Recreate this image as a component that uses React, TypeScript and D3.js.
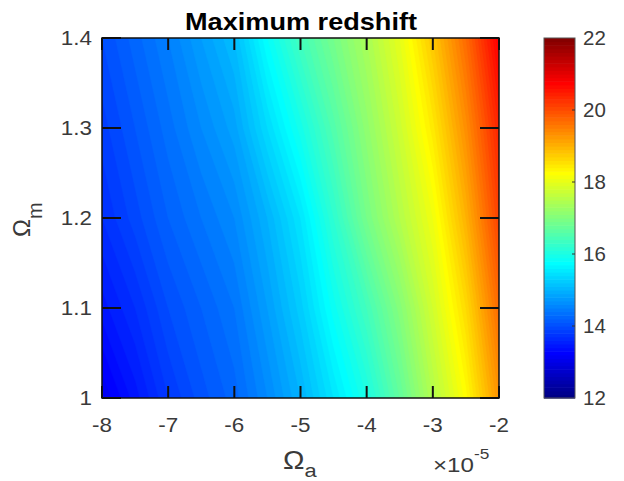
import { useEffect, useRef } from 'react';
import * as d3 from 'd3';

// Omega_a (x 1e-5), grid columns
const omegaA = [-8, -7.5, -7, -6.5, -6, -5.5, -5, -4.5, -4, -3.5, -3, -2.5, -2];
// Omega_m, grid rows from top to bottom
const omegaM = [1.4, 1.3, 1.2, 1.1, 1.0];

// maximum redshift, one row per Omega_m value
const zRow14 = [14.0, 14.25, 14.5, 14.8, 15.1, 15.8, 16.4, 16.9, 17.4, 18.0, 18.8, 19.7, 20.8];
const zRow13 = [13.85, 14.1, 14.35, 14.6, 14.85, 15.4, 15.95, 16.55, 17.15, 17.75, 18.45, 19.35, 20.4];
const zRow12 = [13.7, 13.95, 14.2, 14.4, 14.6, 15.0, 15.5, 16.2, 16.9, 17.5, 18.1, 19.0, 20.1];
const zRow11 = [13.45, 13.7, 14.0, 14.2, 14.4, 14.8, 15.25, 15.85, 16.4, 17.05, 17.8, 18.6, 19.7];
const zRow10 = [13.1, 13.45, 13.8, 14.05, 14.25, 14.6, 15.0, 15.5, 16.0, 16.7, 17.5, 18.25, 19.3];

const xTicks = [-8, -7, -6, -5, -4, -3, -2];
const yTicks = [1, 1.1, 1.2, 1.3, 1.4];
const cbTicks = [12, 14, 16, 18, 20, 22];
const zDomain: [number, number] = [12, 22];

const W = 624;
const H = 481;

// MATLAB jet colormap
function jet(t: number) {
  const c = (v: number) => Math.max(0, Math.min(1, v));
  t = c(t);
  const r = c(1.5 - Math.abs(4 * t - 3));
  const g = c(1.5 - Math.abs(4 * t - 2));
  const b = c(1.5 - Math.abs(4 * t - 1));
  return d3.rgb(r * 255, g * 255, b * 255).formatHex();
}

export default function App() {
  const svgRef = useRef<SVGSVGElement>(null);

  useEffect(() => {
    if (!svgRef.current) return;
    const svg = d3.select(svgRef.current);
    svg.selectAll('*').remove();

    const plot = { left: 102, right: 499, top: 38, bottom: 398 };
    const xScale = d3.scaleLinear().domain([-8, -2]).range([plot.left, plot.right]);
    const yScale = d3.scaleLinear().domain([1, 1.4]).range([plot.bottom, plot.top]);
    const zColor = (z: number) => jet((z - zDomain[0]) / (zDomain[1] - zDomain[0]));

    const nx = omegaA.length;
    const ny = omegaM.length;
    const values = [zRow14, zRow13, zRow12, zRow11, zRow10].flat();

    // grid coords -> pixels (d3.contours puts value i at i + 0.5)
    const gx = d3.scaleLinear().domain([0.5, nx - 0.5])
      .range([xScale(omegaA[0]), xScale(omegaA[nx - 1])]);
    const gy = d3.scaleLinear().domain([0.5, ny - 0.5])
      .range([yScale(omegaM[0]), yScale(omegaM[ny - 1])]);

    const path = d3.geoPath(d3.geoTransform({
      point(x, y) { this.stream.point(gx(x), gy(y)); },
    }));

    const thresholds = d3.range(12, 22.001, 0.1);
    const contours = d3.contours().size([nx, ny]).thresholds(thresholds)(values);

    svg.append('defs')
      .append('clipPath')
      .attr('id', 'plot-clip')
      .append('rect')
      .attr('x', plot.left)
      .attr('y', plot.top)
      .attr('width', plot.right - plot.left)
      .attr('height', plot.bottom - plot.top);

    svg.append('g')
      .attr('clip-path', 'url(#plot-clip)')
      .selectAll('path')
      .data(contours)
      .join('path')
      .attr('d', d => path(d as any))
      .attr('fill', d => zColor(d.value + 0.05))
      .attr('stroke', d => zColor(d.value + 0.05))
      .attr('stroke-width', 0.5);

    // ticks inside the box
    const tk = svg.append('g').attr('stroke', '#111').attr('stroke-width', 2);
    xTicks.forEach(v => {
      const x = xScale(v);
      tk.append('line').attr('x1', x).attr('x2', x).attr('y1', plot.bottom).attr('y2', plot.bottom - 12);
      tk.append('line').attr('x1', x).attr('x2', x).attr('y1', plot.top).attr('y2', plot.top + 12);
    });
    yTicks.forEach(v => {
      const y = yScale(v);
      tk.append('line').attr('x1', plot.left).attr('x2', plot.left + 19).attr('y1', y).attr('y2', y);
      tk.append('line').attr('x1', plot.right).attr('x2', plot.right - 19).attr('y1', y).attr('y2', y);
    });

    svg.append('rect')
      .attr('x', plot.left)
      .attr('y', plot.top)
      .attr('width', plot.right - plot.left)
      .attr('height', plot.bottom - plot.top)
      .attr('fill', 'none')
      .attr('stroke', '#111')
      .attr('stroke-width', 1.5);

    const font = 'Arial, "Liberation Sans", Helvetica, sans-serif';
    const labelColor = '#3a3a3a';
    const sx = 1.15; // reference text is drawn a little wide

    // x tick labels
    svg.append('g')
      .selectAll('text')
      .data(xTicks)
      .join('text')
      .attr('transform', d => `translate(${xScale(d)},432) scale(${sx},1)`)
      .attr('text-anchor', 'middle')
      .attr('font-family', font)
      .attr('font-size', 19.5)
      .attr('fill', labelColor)
      .text(d => String(d));

    // y tick labels
    svg.append('g')
      .selectAll('text')
      .data(yTicks)
      .join('text')
      .attr('transform', d => `translate(92,${yScale(d) + 7}) scale(${sx},1)`)
      .attr('text-anchor', 'end')
      .attr('font-family', font)
      .attr('font-size', 19.5)
      .attr('fill', labelColor)
      .text(d => String(d));

    // exponent
    const ex = svg.append('text')
      .attr('transform', `translate(433,472) scale(${sx},1)`)
      .attr('font-family', font)
      .attr('font-size', 21)
      .attr('fill', labelColor);
    ex.append('tspan').text('\u00d710');
    ex.append('tspan').attr('dy', -13).attr('font-size', 15).text('-5');

    // axis labels
    const xl = svg.append('text')
      .attr('transform', `translate(283,469) scale(${sx},1)`)
      .attr('font-family', font)
      .attr('font-size', 25)
      .attr('fill', labelColor);
    xl.append('tspan').text('\u03a9');
    xl.append('tspan').attr('dy', 8).attr('font-size', 19).text('a');

    const yl = svg.append('text')
      .attr('transform', 'translate(30,237) rotate(-90)')
      .attr('font-family', font)
      .attr('font-size', 24)
      .attr('fill', labelColor);
    yl.append('tspan').text('\u03a9');
    yl.append('tspan').attr('dy', 12).attr('font-size', 20).text('m');

    // title
    svg.append('text')
      .attr('transform', `translate(301,30) scale(1.13,1)`)
      .attr('text-anchor', 'middle')
      .attr('font-family', font)
      .attr('font-size', 24)
      .attr('font-weight', 'bold')
      .attr('fill', '#000')
      .text('Maximum redshift');

    // colorbar
    const cb = { left: 544, right: 575, top: 38, bottom: 398 };
    const cScale = d3.scaleLinear().domain(zDomain).range([cb.bottom, cb.top]);
    const steps = d3.range(zDomain[0], zDomain[1], 0.1);
    svg.append('g')
      .selectAll('rect')
      .data(steps)
      .join('rect')
      .attr('x', cb.left)
      .attr('width', cb.right - cb.left)
      .attr('y', d => cScale(d + 0.1))
      .attr('height', d => cScale(d) - cScale(d + 0.1) + 0.6)
      .attr('fill', d => zColor(d + 0.05));

    svg.append('rect')
      .attr('x', cb.left)
      .attr('y', cb.top)
      .attr('width', cb.right - cb.left)
      .attr('height', cb.bottom - cb.top)
      .attr('fill', 'none')
      .attr('stroke', '#555')
      .attr('stroke-width', 1);

    svg.append('g')
      .selectAll('line')
      .data(cbTicks.slice(1, -1))
      .join('line')
      .attr('x1', cb.right - 3)
      .attr('x2', cb.right)
      .attr('y1', d => cScale(d))
      .attr('y2', d => cScale(d))
      .attr('stroke', '#333')
      .attr('stroke-width', 1);

    svg.append('g')
      .selectAll('text')
      .data(cbTicks)
      .join('text')
      .attr('transform', d => `translate(583,${cScale(d) + 7}) scale(1.05,1)`)
      .attr('font-family', font)
      .attr('font-size', 19.5)
      .attr('fill', labelColor)
      .text(d => String(d));
  }, []);

  return (
    <svg
      ref={svgRef}
      width={W}
      height={H}
      style={{ position: 'absolute', left: 0, top: 0, background: '#fff' }}
    />
  );
}
